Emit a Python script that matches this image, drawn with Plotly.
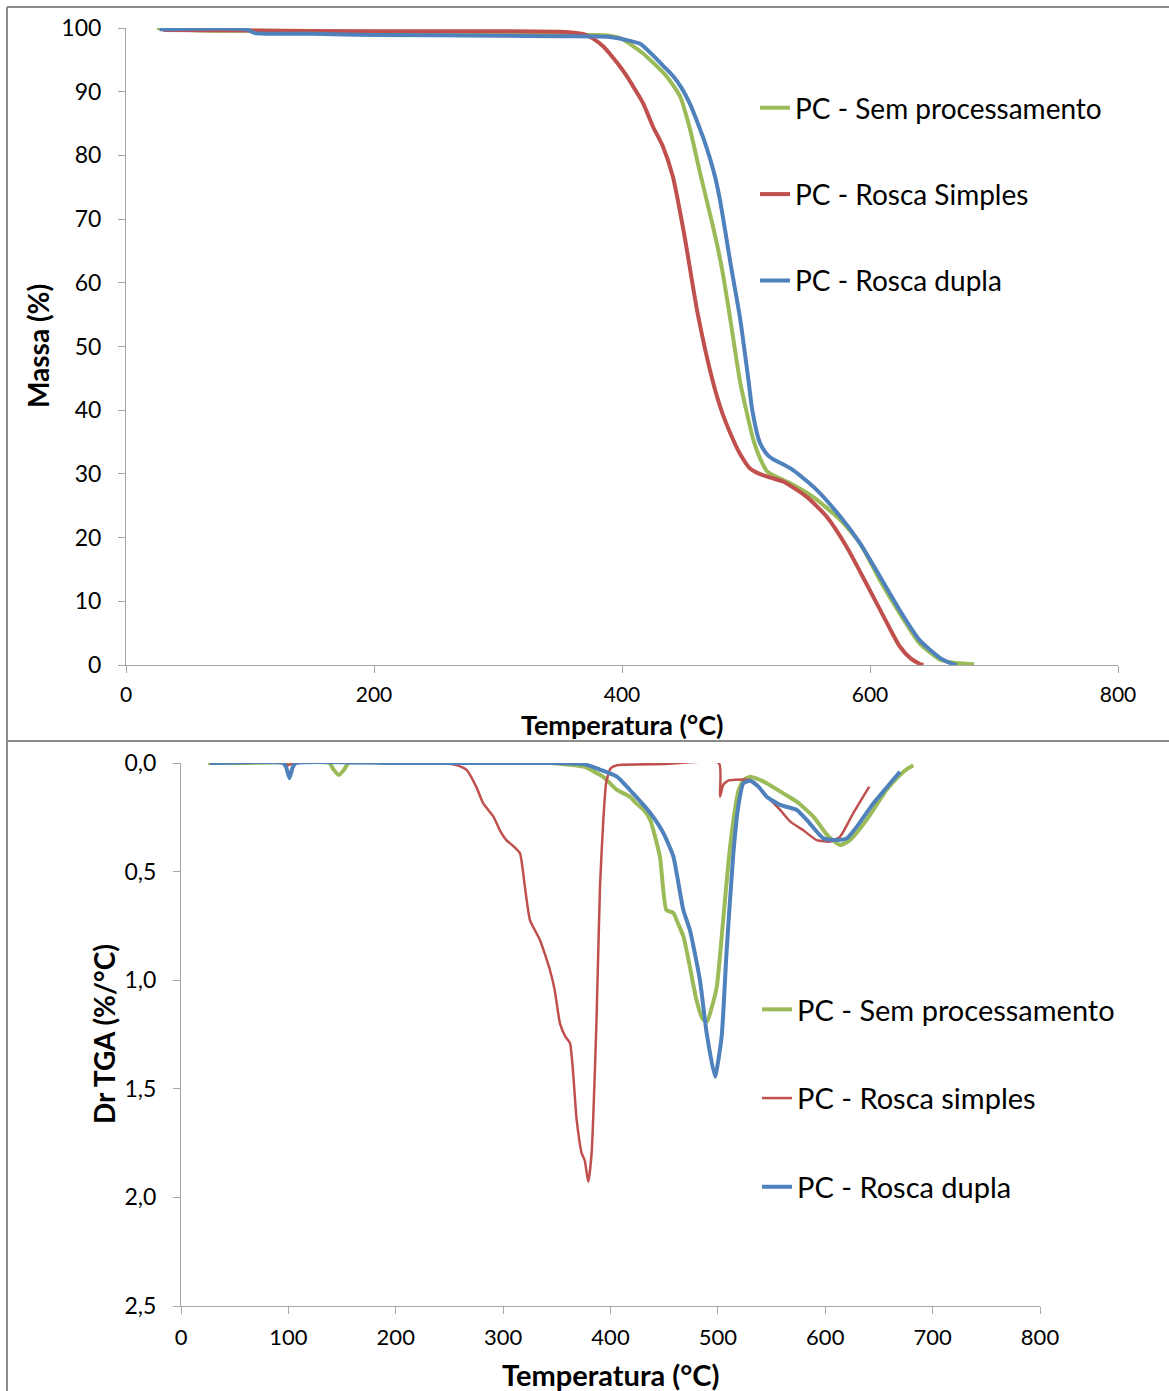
import plotly.graph_objects as go

# ---------------- TGA: residual mass (%) vs temperature (°C) ----------------
tga_sem_T = [25, 60, 140, 150, 200, 300, 350, 380, 390, 400, 417, 436, 447, 455, 463, 470,
             476, 481, 487, 495, 501, 506, 511, 517, 527, 536, 554, 576, 592, 608, 624, 640,
             657, 670, 684]
tga_sem_m = [100.0, 99.6, 99.5, 99.3, 99.2, 99.0, 98.9, 98.9, 98.8, 98.3, 96.0, 92.4, 89.2,
             84.0, 77.2, 71.6, 66.6, 61.8, 54.7, 44.7, 39.3, 35.3, 32.6, 30.4, 29.3, 28.5,
             26.4, 22.8, 19.1, 13.3, 8.1, 3.4, 0.8, 0.3, 0.1]

tga_rs_T = [30, 100, 200, 300, 350, 370, 377, 385, 390, 397, 404, 410, 417, 425, 433, 441,
            450, 461, 473, 481, 490, 495, 503, 511, 520, 530, 549, 565, 581, 597, 611, 624,
            633, 640, 643]
tga_rs_m = [99.7, 99.6, 99.5, 99.5, 99.4, 99.0, 98.3, 97.1, 96.0, 94.3, 92.4, 90.5, 88.2,
            84.5, 81.4, 76.7, 67.8, 55.2, 44.7, 39.5, 35.2, 33.2, 30.9, 30.0, 29.4, 28.8,
            26.4, 23.3, 18.6, 12.8, 7.6, 2.9, 1.0, 0.2, 0.0]

tga_rd_T = [27, 97, 104, 150, 200, 300, 350, 390, 404, 415, 425, 433, 441, 448, 455, 460,
            466, 475, 479, 488, 495, 502, 505, 511, 516, 521, 530, 538, 557, 576, 592, 608,
            624, 640, 657, 667, 670]
tga_rd_m = [99.8, 99.8, 99.2, 99.1, 98.9, 98.8, 98.7, 98.6, 98.1, 97.5, 95.7, 94.1, 92.5,
            90.6, 88.0, 85.6, 82.5, 76.7, 73.0, 62.5, 54.7, 44.7, 40.1, 35.0, 33.3, 32.4,
            31.5, 30.6, 27.5, 23.3, 19.1, 13.9, 8.6, 3.9, 1.05, 0.15, 0.0]

# ---------------- DTG: derivative of mass loss (%/°C) ----------------
dtg_sem_T = [25, 60, 138, 142, 147, 152, 156, 200, 300, 343, 375, 393, 406, 418, 424, 431,
             437, 446, 452, 458.5, 463, 468, 474, 480, 486, 490, 494, 499, 505, 510, 514.5,
             519, 524, 530, 538, 545.5, 561, 573.5, 589, 601.5, 608, 614, 623, 638.5, 657,
             669.6, 677, 682]
dtg_sem_v = [0.0, 0.0, 0.0, 0.03, 0.055, 0.03, 0.0, 0.0, 0.0, 0.0, 0.017, 0.063, 0.124,
             0.155, 0.186, 0.216, 0.262, 0.43, 0.677, 0.69, 0.74, 0.80, 0.94, 1.09, 1.18,
             1.19, 1.13, 1.03, 0.72, 0.45, 0.262, 0.13, 0.078, 0.063, 0.075, 0.093, 0.14,
             0.178, 0.247, 0.33, 0.36, 0.378, 0.355, 0.262, 0.124, 0.055, 0.025, 0.01]

dtg_rs_T = [30, 95, 100, 105, 200, 250, 258, 266, 275, 281.5, 291, 297, 303, 309, 315.7,
            320, 325, 334.3, 343.6, 348, 353, 358, 362.3, 368.5, 373.2, 376, 379.3, 382.4,
            387, 390.2, 393.3, 396, 400, 406, 450, 501, 502, 505, 510, 514.4, 530, 545,
            558, 567.4, 579.6, 592, 604.5, 613.7, 626, 641]
dtg_rs_v = [0.0, 0.0, 0.01, 0.0, 0.0, 0.003, 0.012, 0.032, 0.11, 0.186, 0.247, 0.31, 0.355,
            0.38, 0.416, 0.56, 0.723, 0.815, 0.953, 1.045, 1.2, 1.26, 1.29, 1.644, 1.797,
            1.83, 1.928, 1.797, 1.18, 0.57, 0.262, 0.09, 0.025, 0.01, 0.005, 0.0, 0.155,
            0.10, 0.08, 0.078, 0.078, 0.15, 0.216, 0.27, 0.31, 0.355, 0.362, 0.34, 0.232,
            0.109]

dtg_rd_T = [27, 95, 98, 101, 104, 107, 200, 300, 343, 375, 390, 406, 421, 437, 449, 458.5,
            467.8, 474, 483.3, 489.6, 497.3, 503.5, 508, 514.4, 519, 523.7, 530, 538, 545.5,
            558, 573.5, 582.8, 598.3, 610.7, 620, 629.4, 644.8, 656, 669.6]
dtg_rd_v = [0.0, 0.0, 0.02, 0.07, 0.02, 0.0, 0.0, 0.0, 0.0, 0.005, 0.03, 0.063, 0.14, 0.23,
            0.32, 0.43, 0.677, 0.77, 1.0, 1.245, 1.444, 1.26, 0.876, 0.416, 0.2, 0.093,
            0.082, 0.11, 0.155, 0.193, 0.216, 0.262, 0.347, 0.355, 0.347, 0.293, 0.186,
            0.12, 0.04]

# Series names shown in the legends
top_names = ["PC - Sem processamento", "PC - Rosca Simples", "PC - Rosca dupla"]
bottom_names = ["PC - Sem processamento", "PC - Rosca simples", "PC - Rosca dupla"]

GREEN, RED, BLUE = "#9BBB59", "#C0504D", "#4F81BD"
FONT = "Lato"
W, H = 1169, 1391


def px_x(x):
    return x / W


def px_y(y):
    return 1 - y / H


fig = go.Figure()

top_series = [(tga_sem_T, tga_sem_m, GREEN, 4), (tga_rs_T, tga_rs_m, RED, 4),
              (tga_rd_T, tga_rd_m, BLUE, 4)]
for i, (t, m, c, w) in enumerate(top_series):
    fig.add_trace(go.Scatter(
        x=t, y=m, mode="lines", name=top_names[i],
        line=dict(color=c, width=w, shape="spline", smoothing=0.6),
        xaxis="x", yaxis="y", legend="legend", legendgroup=f"t{i}"))

bottom_series = [(dtg_sem_T, dtg_sem_v, GREEN, 4), (dtg_rs_T, dtg_rs_v, RED, 2.5),
                 (dtg_rd_T, dtg_rd_v, BLUE, 4)]
for i, (t, v, c, w) in enumerate(bottom_series):
    fig.add_trace(go.Scatter(
        x=t, y=v, mode="lines", name=bottom_names[i],
        line=dict(color=c, width=w, shape="spline", smoothing=0.5),
        xaxis="x2", yaxis="y2", legend="legend2", legendgroup=f"b{i}"))

axis_common = dict(showgrid=False, zeroline=False, showline=True, linecolor="#A6A6A6",
                   linewidth=1, ticks="outside", tickcolor="#A6A6A6", ticklen=7,
                   automargin=False)
tick_font = dict(family=FONT, size=23, color="#000000")
x_tick_font = dict(family=FONT, size=21, color="#000000")

fig.update_layout(
    width=W, height=H,
    margin=dict(l=0, r=0, t=0, b=0, pad=0, autoexpand=False),
    paper_bgcolor="white", plot_bgcolor="white",
    showlegend=True,
    xaxis=dict(domain=[px_x(126), px_x(1118)], anchor="y", range=[0, 800],
               tickvals=[0, 200, 400, 600, 800], ticklabelstandoff=4,
               tickfont=x_tick_font, **axis_common),
    yaxis=dict(domain=[px_y(665), px_y(28)], anchor="x", range=[0, 100],
               tickvals=list(range(0, 101, 10)), ticklabelstandoff=12,
               tickfont=tick_font, **axis_common),
    xaxis2=dict(domain=[px_x(181), px_x(1040)], anchor="y2", range=[0, 800],
                tickvals=list(range(0, 801, 100)), ticklabelstandoff=5,
                tickfont=dict(family=FONT, size=22, color="#000000"), **axis_common),
    yaxis2=dict(domain=[px_y(1306), px_y(763)], anchor="x2", range=[2.5, 0],
                tickvals=[0, 0.5, 1.0, 1.5, 2.0, 2.5],
                ticktext=["0,0", "0,5", "1,0", "1,5", "2,0", "2,5"],
                ticklabelstandoff=12, tickfont=tick_font, **axis_common),
    legend=dict(x=px_x(755), y=px_y(83), xanchor="left", yanchor="top",
                font=dict(family=FONT, size=28, color="#000000"),
                bgcolor="rgba(0,0,0,0)", tracegroupgap=47, itemwidth=30),
    legend2=dict(x=px_x(757), y=px_y(984), xanchor="left", yanchor="top",
                 font=dict(family=FONT, size=29, color="#000000"),
                 bgcolor="rgba(0,0,0,0)", tracegroupgap=48, itemwidth=30),
)

title_font = dict(family=FONT, size=27, color="#000000", weight="bold")
title_font_l = dict(family=FONT, size=28, color="#000000", weight="bold")
title_font_b = dict(family=FONT, size=29, color="#000000", weight="bold")
annotations = [
    dict(text="Massa (%)", x=px_x(38), y=px_y(346), textangle=-90, font=title_font_l),
    dict(text="Temperatura (°C)", x=px_x(622), y=px_y(724), textangle=0, font=title_font),
    dict(text="Dr TGA (%/°C)", x=px_x(104), y=px_y(1034), textangle=-90, font=title_font_l),
    dict(text="Temperatura (°C)", x=px_x(611), y=px_y(1374), textangle=0, font=title_font_b),
]
for a in annotations:
    fig.add_annotation(xref="paper", yref="paper", xanchor="center", yanchor="middle",
                       showarrow=False, **a)

# Frame around the two panels
frame = dict(type="line", xref="paper", yref="paper", line=dict(color="#8C8C8C", width=2))
fig.add_shape(x0=px_x(7), x1=1, y0=px_y(7), y1=px_y(7), **frame)
fig.add_shape(x0=px_x(7), x1=px_x(7), y0=px_y(7), y1=0, **frame)
fig.add_shape(x0=px_x(7), x1=1, y0=px_y(741), y1=px_y(741), **frame)

fig.write_html("out.html")
